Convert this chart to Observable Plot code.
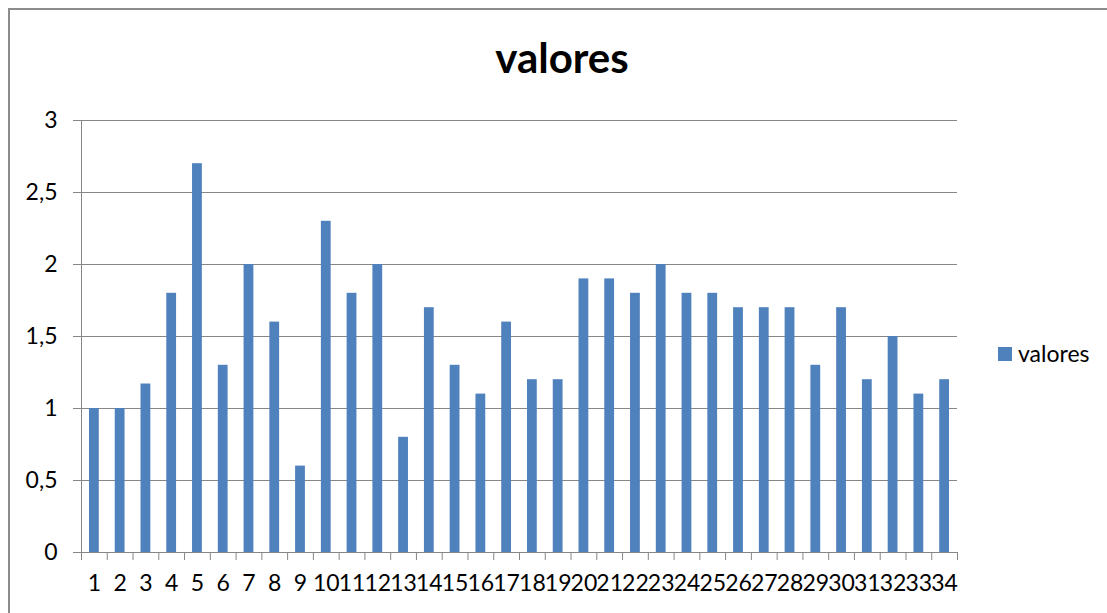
<!DOCTYPE html>
<html>
<head>
<meta charset="utf-8">
<script src="https://cdn.jsdelivr.net/npm/d3@7"></script>
<script src="https://cdn.jsdelivr.net/npm/@observablehq/plot@0.6"></script>
<style>
  html, body { margin: 0; padding: 0; background: #fff; }
  #wrap { position: relative; width: 1107px; height: 613px; overflow: hidden; font-family: Lato, "Open Sans", sans-serif; }
  #border { position: absolute; left: 8px; top: 8px; width: 1200px; height: 700px; border-left: 2px solid #8c8c8c; border-top: 2px solid #8c8c8c; box-sizing: border-box; }
  #title { position: absolute; left: 0; width: 1124px; top: 32px; text-align: center; font-weight: bold; font-size: 42px; color: #000; line-height: 1.2; }
  #legend { position: absolute; left: 998px; top: 340px; font-size: 23px; color: #000; display: flex; align-items: center; line-height: 1.2; }
  #legend span.sw { display: inline-block; width: 14px; height: 14px; background: #4f81bd; margin-right: 6px; }
  #chart { position: absolute; left: 0; top: 0; }
</style>
</head>
<body>
<div id="wrap">
  <div id="border"></div>
  <div id="chart"></div>
  <div id="title">valores</div>
  <div id="legend"><span class="sw"></span><span>valores</span></div>
</div>
<script>
const categories = ["1","2","3","4","5","6","7","8","9","10","11","12","13","14","15","16","17","18","19","20","21","22","23","24","25","26","27","28","29","30","31","32","33","34"];
const values = [1.0,1.0,1.17,1.8,2.7,1.3,2.0,1.6,0.6,2.3,1.8,2.0,0.8,1.7,1.3,1.1,1.6,1.2,1.2,1.9,1.9,1.8,2.0,1.8,1.8,1.7,1.7,1.7,1.3,1.7,1.2,1.5,1.1,1.2];
const yTicks = [0, 0.5, 1, 1.5, 2, 2.5, 3];

const data = categories.map((c, i) => ({cat: c, value: values[i]}));

const W = 1107, H = 613;
const mL = 81, mR = 150, mT = 120, mB = 61;
const step = (W - mL - mR) / categories.length;
const gray = "#868686";

const chart = Plot.plot({
  width: W,
  height: H,
  marginLeft: mL,
  marginRight: mR,
  marginTop: mT,
  marginBottom: mB,
  style: {fontFamily: "Lato, 'Open Sans', sans-serif", fontSize: "23px", color: "#000", background: "transparent"},
  x: {domain: categories, paddingInner: 0.62, paddingOuter: 0.31, round: false},
  y: {domain: [0, 3]},
  marks: [
    Plot.gridY(yTicks, {stroke: gray, strokeOpacity: 1}),
    Plot.axisY(yTicks, {tickSize: 8, tickPadding: 16, stroke: gray, strokeOpacity: 1, fill: "#000", fontSize: 23, tickFormat: d => String(d).replace(".", ","), label: null}),
    Plot.barY(data, {x: "cat", y: "value", fill: "#4f81bd"}),
    Plot.ruleY([0], {stroke: gray}),
    Plot.ruleX([categories[0]], {y1: 0, y2: 3, dx: -step / 2, stroke: gray}),
    Plot.axisX({ticks: categories, tickSize: 8, dx: -step / 2, stroke: gray, strokeOpacity: 1, tickFormat: () => "", label: null}),
    Plot.axisX({ticks: [categories[categories.length - 1]], tickSize: 8, dx: step / 2, stroke: gray, strokeOpacity: 1, tickFormat: () => "", label: null}),
    Plot.axisX({tickSize: 0, tickPadding: 22, fill: "#000", fontSize: 23, label: null})
  ]
});
document.getElementById("chart").appendChild(chart);
</script>
</body>
</html>
